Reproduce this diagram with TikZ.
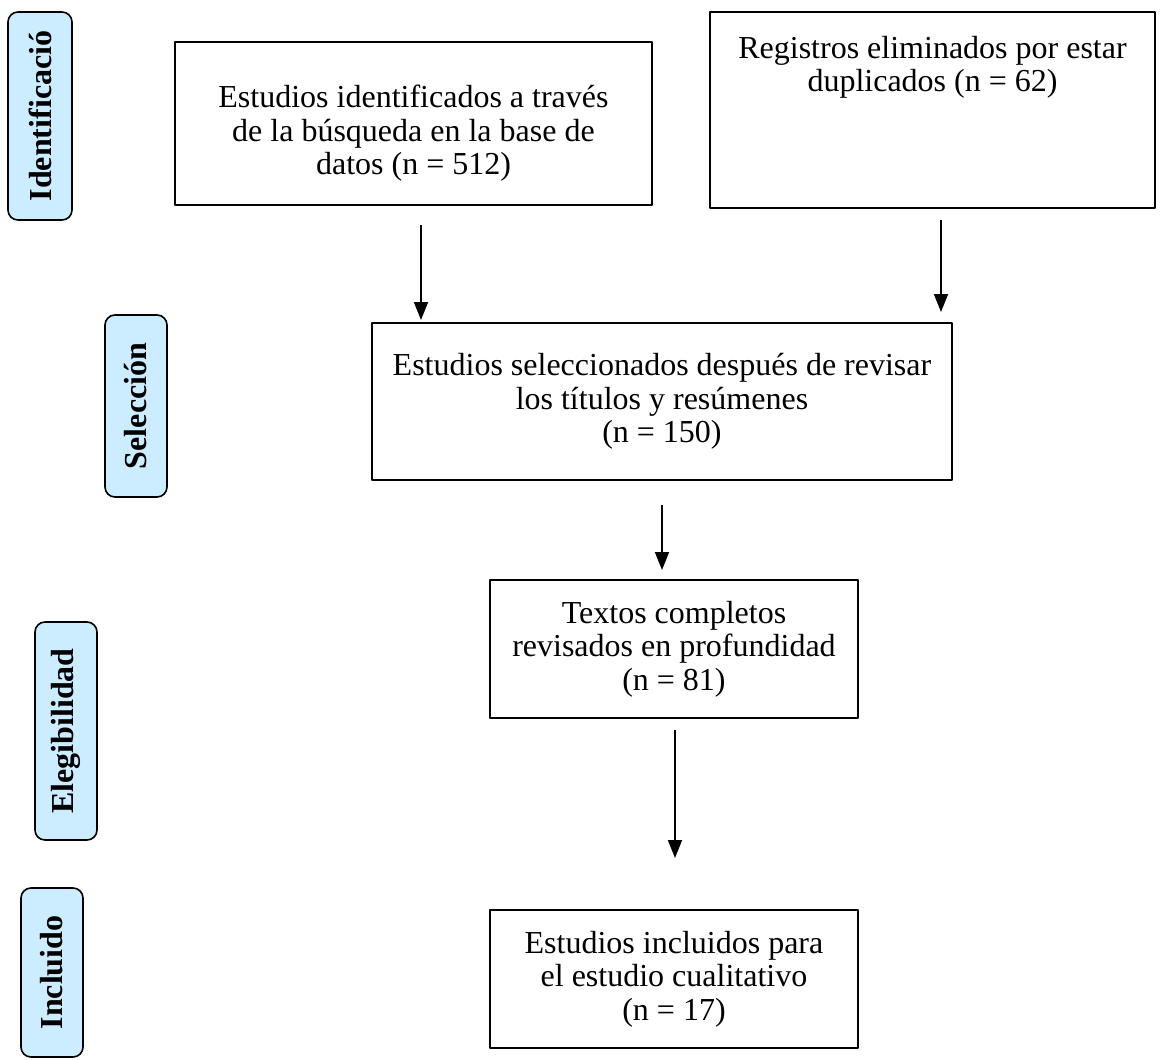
\documentclass[tikz,border=0pt]{standalone}
\usepackage{fontspec}
\setmainfont{Liberation Serif}
\usetikzlibrary{arrows.meta}
\definecolor{fasefill}{RGB}{204,236,255}
\begin{document}
\begin{tikzpicture}[x=0.5pt, y=-0.5pt, line join=round,
	caja/.style={draw, line width=1pt, inner sep=0pt, align=center, font=\fontsize{16}{16.8}\selectfont},
	fase/.style={draw, fill=fasefill, line width=0.8pt, rounded corners=5pt, rotate=90, inner sep=0pt, minimum height=31pt, font=\fontsize{16}{17}\selectfont\bfseries},
	flecha/.style={line width=0.9pt, -{Triangle[width=7pt,length=9pt]}}]
	\useasboundingbox (0,0) rectangle (1175,1061);
	
	% fases
	\node[fase, minimum width=104pt, minimum height=32pt] (ident) at (40,116) {Identificació};
	\node[fase, minimum width=91pt] (selec) at (136,406) {Selección};
	\node[fase, minimum width=109pt] (eleg) at (66,731) {Elegibilidad};
	\node[fase, minimum width=84.5pt] (incl) at (52,972.5) {Incluido};
	
	% cajas
	\node[caja, minimum width=238.5pt, minimum height=81.5pt] (b1) at (413.5,123.5) {\rule{0pt}{21pt}Estudios identificados a través\\de la búsqueda en la base de\\datos (n = 512)};
	\node[caja, minimum width=222.5pt, minimum height=98pt] (b2) at (932.5,110) {};
	\node[caja, draw=none, anchor=north] (b2t) at ([yshift=-12pt]b2.north) {Registros eliminados por estar\\duplicados (n = 62)};
	\node[caja, minimum width=290pt, minimum height=78.5pt] (b3) at (662,401.5) {Estudios seleccionados después de revisar\\los títulos y resúmenes\\(n = 150)};
	\node[caja, minimum width=184pt, minimum height=69pt] (b4) at (674,649) {Textos completos\\revisados en profundidad\\(n = 81)};
	\node[caja, minimum width=184pt, minimum height=69pt] (b5) at (674,979) {Estudios incluidos para\\el estudio cualitativo\\(n = 17)};
	
	% flechas
	\path (421,225) coordinate (a1s) (421,320) coordinate (a1e)
		(941,220) coordinate (a2s) (941,312) coordinate (a2e)
		(662,505) coordinate (a3s) (662,570) coordinate (a3e)
		(675,730) coordinate (a4s) (675,858) coordinate (a4e);
	\foreach \a in {a1,a2,a3,a4}
		\draw[flecha] (\a s) -- (\a e);
\end{tikzpicture}
\end{document}
